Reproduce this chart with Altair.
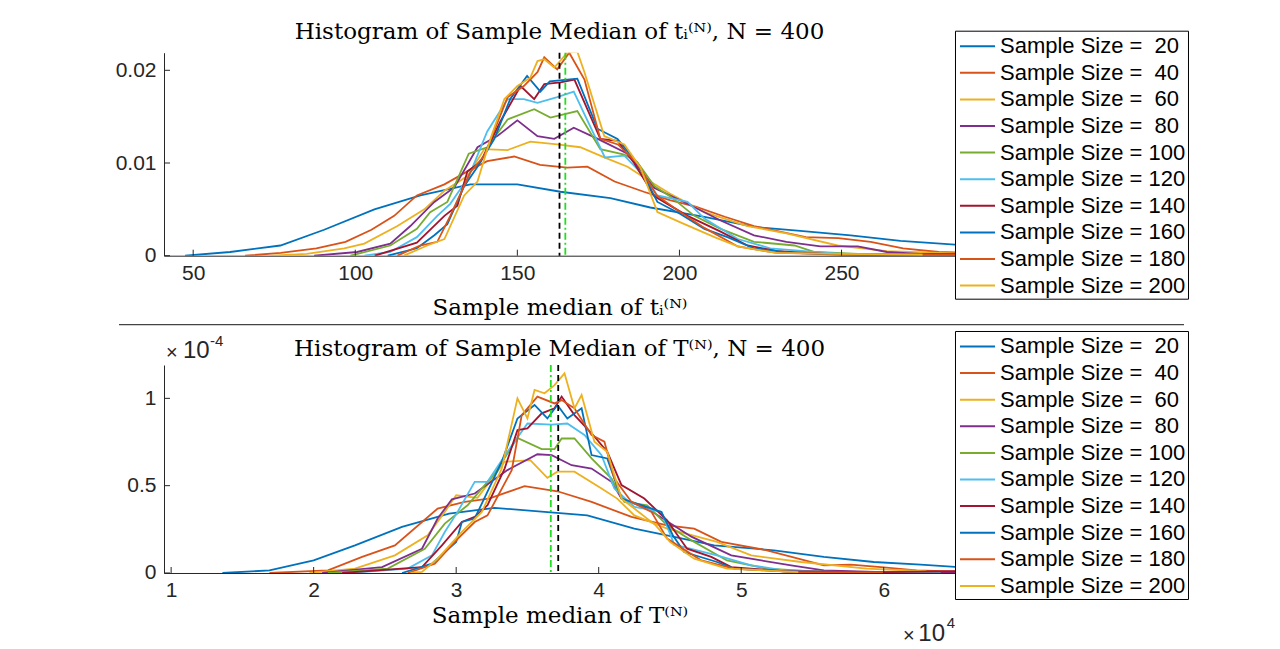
import altair as alt
import pandas as pd

SIZES = [20, 40, 60, 80, 100, 120, 140, 160, 180, 200]
COLORS = ["#0072BD", "#D95319", "#EDB120", "#7E2F8E", "#77AC30",
          "#4DBEEE", "#A2142F", "#0072BD", "#D95319", "#EDB120"]
LABELS = [("Sample Size = \u00a0%d" % s) if s < 100 else ("Sample Size = %d" % s) for s in SIZES]

# ---------------- top panel: sample median of t_i^(N) ----------------
t20_x = [47.5, 61.4, 76.9, 90.4, 105.9, 120.1, 135.5, 150.0, 163.3, 178.7, 191.0, 207.7, 223.1, 236.4, 252.8, 268.2, 285.2, 300]
t20_y = [0.0, 0.0004, 0.0011, 0.0028, 0.0050, 0.0065, 0.0077, 0.0077, 0.0069, 0.0062, 0.0052, 0.0042, 0.0031, 0.0027, 0.0022, 0.0016, 0.0012, 0.0009]
t40_x = [66, 77, 88, 97, 105, 112, 119, 127.5, 134.6, 140.7, 149, 157, 165.4, 171.6, 180, 189, 197, 205, 214, 223, 231, 239, 249, 259, 269, 280, 290]
t40_y = [0.0, 0.0003, 0.0008, 0.0015, 0.0028, 0.0043, 0.0065, 0.0077, 0.0091, 0.0102, 0.0107, 0.0098, 0.0095, 0.0096, 0.0080, 0.0069, 0.0060, 0.0053, 0.0042, 0.0032, 0.0026, 0.0020, 0.0019, 0.0015, 0.0008, 0.0004, 0.0003]
t60_x = [74, 85, 96.6, 102.8, 113, 121.3, 127.5, 134.6, 139.8, 147, 154, 162.3, 169.4, 176.8, 184, 191, 197, 207.7, 221, 233, 248.8, 264, 280, 292]
t60_y = [0.0, 0.0002, 0.0008, 0.0013, 0.0032, 0.0050, 0.0070, 0.0086, 0.0115, 0.0114, 0.0123, 0.0120, 0.0117, 0.0106, 0.0096, 0.0080, 0.0067, 0.0047, 0.0032, 0.0024, 0.0011, 0.0005, 0.0003, 0.0002]
t80_x = [87.3, 100.6, 110.8, 117, 124.4, 130.6, 137.7, 143.8, 150, 156.2, 161.4, 167.4, 174.8, 184, 192.3, 202.5, 212.7, 223, 233, 243.5, 255, 264, 274, 284, 292]
t80_y = [0.0, 0.0004, 0.0013, 0.0032, 0.0058, 0.0074, 0.0117, 0.0129, 0.0146, 0.0129, 0.0126, 0.0138, 0.0126, 0.0110, 0.0073, 0.0056, 0.0038, 0.0022, 0.0015, 0.0010, 0.0010, 0.0004, 0.0002, 0.0002, 0.0001]
t100_x = [98.5, 110.8, 119, 123.1, 128.4, 135, 140.7, 147, 155.2, 160.2, 168.5, 175.6, 183, 187, 192.3, 197.2, 204.6, 212.7, 223, 235.5, 241.7, 255, 270, 285]
t100_y = [0.0, 0.0011, 0.0029, 0.0047, 0.0058, 0.0110, 0.0117, 0.0147, 0.0158, 0.0149, 0.0156, 0.0115, 0.0109, 0.0101, 0.0075, 0.0064, 0.0043, 0.0029, 0.0015, 0.0011, 0.0004, 0.0002, 0.0001, 0.0001]
t120_x = [102.8, 110.8, 119, 125.3, 129.3, 135, 140.7, 147, 152, 156.2, 162.3, 167.4, 177, 183, 188, 193.2, 202.5, 207.7, 218, 228, 238.6, 250, 265, 280]
t120_y = [0.0, 0.0004, 0.0020, 0.0043, 0.0056, 0.0085, 0.0134, 0.0169, 0.0169, 0.0165, 0.0171, 0.0177, 0.0106, 0.0108, 0.0090, 0.0065, 0.0058, 0.0040, 0.0018, 0.0008, 0.0005, 0.0002, 0.0001, 0.0001]
t140_x = [106, 119, 127.5, 131.5, 134.6, 138.6, 144.8, 151, 155.2, 158.3, 163.3, 167.6, 175.6, 180.9, 186, 192.3, 202.5, 212.7, 221, 230, 245, 260, 272, 278, 290]
t140_y = [0.0, 0.0014, 0.0043, 0.0054, 0.0091, 0.0101, 0.0145, 0.0183, 0.0169, 0.0185, 0.0187, 0.0190, 0.0126, 0.0124, 0.0100, 0.0064, 0.0043, 0.0026, 0.0011, 0.0005, 0.0002, 0.0001, 0.0001, 0.0002, 0.0001]
t160_x = [110, 119, 124.4, 128.4, 133.6, 137.7, 142.9, 147.8, 153, 157.1, 160, 165.4, 168.5, 174.7, 180.9, 187, 193.2, 200.3, 207.7, 214.8, 223, 235, 250, 270, 290]
t160_y = [0.0, 0.0008, 0.0022, 0.0034, 0.0075, 0.0096, 0.0126, 0.0169, 0.0194, 0.0177, 0.0188, 0.0190, 0.0191, 0.0137, 0.0126, 0.0100, 0.0058, 0.0045, 0.0029, 0.0020, 0.0008, 0.0003, 0.0001, 0.0001, 0.0001]
t180_x = [113, 120, 125.3, 129.3, 135.5, 139.8, 147, 152, 156.2, 158.3, 162.3, 166, 170.7, 175.6, 181, 187, 193, 200.3, 207.7, 218, 230, 245, 265, 290]
t180_y = [0.0, 0.0011, 0.0015, 0.0043, 0.0090, 0.0108, 0.0171, 0.0183, 0.0198, 0.0214, 0.0201, 0.0219, 0.0190, 0.0126, 0.0120, 0.0100, 0.0065, 0.0047, 0.0030, 0.0010, 0.0003, 0.0002, 0.0001, 0.0001]
t200_x = [115, 122.2, 127.5, 133.6, 137.7, 141.7, 146, 150, 154, 156.2, 158.3, 161.4, 165.4, 168.5, 170.7, 176.8, 183, 188, 193.2, 200.3, 210.8, 218, 230, 250, 275]
t200_y = [0.0, 0.0011, 0.0018, 0.0065, 0.0080, 0.0126, 0.0169, 0.0183, 0.0192, 0.0210, 0.0212, 0.0203, 0.0219, 0.0220, 0.0198, 0.0129, 0.0120, 0.0095, 0.0047, 0.0036, 0.0020, 0.0010, 0.0003, 0.0002, 0.0001]

T_TOP_X = [t20_x, t40_x, t60_x, t80_x, t100_x, t120_x, t140_x, t160_x, t180_x, t200_x]
T_TOP_Y = [t20_y, t40_y, t60_y, t80_y, t100_y, t120_y, t140_y, t160_y, t180_y, t200_y]
top_mean = [163.0]      # black dashed
top_median = [164.8]    # green dash-dot
top_xticks = [50, 100, 150, 200, 250]
top_yticks = [0, 0.01, 0.02]

# ---------------- bottom panel: sample median of T^(N) (x in 1e4, y in 1e-4) ----------------
b20_x = [1.36, 1.69, 2.00, 2.29, 2.62, 2.95, 3.27, 3.62, 3.92, 4.25, 4.53, 4.81, 5.23, 5.58, 5.93, 6.26, 6.60]
b20_y = [0.0, 0.015, 0.072, 0.158, 0.264, 0.340, 0.373, 0.350, 0.330, 0.254, 0.207, 0.158, 0.130, 0.092, 0.063, 0.048, 0.030]
b40_x = [1.69, 2.10, 2.34, 2.57, 2.87, 3.06, 3.23, 3.48, 3.71, 3.95, 4.23, 4.48, 4.67, 4.86, 5.18, 5.58, 5.77, 5.98, 6.23, 6.48, 6.70]
b40_y = [0.0, 0.015, 0.092, 0.158, 0.369, 0.407, 0.426, 0.497, 0.468, 0.407, 0.321, 0.273, 0.254, 0.178, 0.130, 0.044, 0.048, 0.034, 0.015, 0.009, 0.005]
b60_x = [1.97, 2.29, 2.57, 2.80, 2.92, 3.00, 3.15, 3.34, 3.52, 3.64, 3.71, 3.83, 4.02, 4.13, 4.25, 4.48, 4.83, 5.07, 5.42, 5.88, 6.30]
b60_y = [0.0, 0.025, 0.101, 0.216, 0.350, 0.445, 0.430, 0.637, 0.646, 0.545, 0.580, 0.580, 0.484, 0.426, 0.330, 0.254, 0.178, 0.101, 0.063, 0.025, 0.010]
b80_x = [2.06, 2.48, 2.76, 2.87, 2.97, 3.13, 3.36, 3.57, 3.67, 3.81, 3.95, 4.09, 4.16, 4.34, 4.65, 4.93, 5.14, 5.35, 5.58, 6.00, 6.50]
b80_y = [0.0, 0.034, 0.139, 0.312, 0.422, 0.455, 0.589, 0.680, 0.675, 0.617, 0.598, 0.522, 0.426, 0.369, 0.208, 0.101, 0.072, 0.044, 0.015, 0.005, 0.003]
b100_x = [2.10, 2.52, 2.78, 2.92, 3.08, 3.27, 3.43, 3.60, 3.69, 3.74, 3.83, 3.95, 4.09, 4.18, 4.34, 4.48, 4.67, 4.90, 5.18, 5.60, 6.20]
b100_y = [0.0, 0.025, 0.139, 0.283, 0.388, 0.570, 0.774, 0.709, 0.709, 0.770, 0.770, 0.656, 0.541, 0.407, 0.388, 0.273, 0.178, 0.072, 0.025, 0.005, 0.003]
b120_x = [2.24, 2.66, 2.83, 2.92, 3.01, 3.13, 3.22, 3.36, 3.50, 3.67, 3.78, 3.90, 4.02, 4.11, 4.25, 4.44, 4.53, 4.83, 5.07, 5.30, 5.80, 6.40]
b120_y = [0.0, 0.025, 0.101, 0.235, 0.350, 0.522, 0.522, 0.694, 0.856, 0.850, 0.856, 0.790, 0.675, 0.484, 0.379, 0.350, 0.162, 0.101, 0.044, 0.015, 0.004, 0.003]
b140_x = [2.20, 2.76, 2.90, 3.04, 3.13, 3.22, 3.34, 3.43, 3.50, 3.60, 3.69, 3.74, 3.83, 3.95, 4.06, 4.16, 4.32, 4.48, 4.62, 4.79, 4.93, 5.30, 6.00, 6.50]
b140_y = [0.0, 0.034, 0.158, 0.292, 0.321, 0.388, 0.598, 0.818, 0.828, 0.914, 0.943, 1.010, 0.904, 0.800, 0.694, 0.503, 0.426, 0.302, 0.139, 0.092, 0.034, 0.010, 0.005, 0.010]
b160_x = [2.62, 2.83, 3.00, 3.04, 3.13, 3.32, 3.43, 3.55, 3.64, 3.71, 3.78, 3.88, 3.95, 4.06, 4.16, 4.30, 4.44, 4.52, 4.60, 4.83, 4.95, 5.40, 6.00]
b160_y = [0.0, 0.053, 0.178, 0.292, 0.312, 0.637, 0.885, 0.962, 0.885, 0.962, 0.885, 0.943, 0.675, 0.656, 0.426, 0.388, 0.350, 0.216, 0.120, 0.063, 0.025, 0.005, 0.003]
b180_x = [2.66, 2.85, 3.00, 3.13, 3.22, 3.39, 3.46, 3.57, 3.69, 3.74, 3.83, 3.95, 4.04, 4.11, 4.23, 4.37, 4.48, 4.72, 4.95, 5.40, 6.00]
b180_y = [0.0, 0.053, 0.187, 0.292, 0.330, 0.589, 0.904, 1.010, 0.971, 0.990, 0.943, 0.790, 0.752, 0.541, 0.407, 0.350, 0.197, 0.072, 0.025, 0.005, 0.003]
b200_x = [2.68, 2.76, 2.87, 3.04, 3.18, 3.32, 3.43, 3.50, 3.55, 3.62, 3.69, 3.76, 3.83, 3.88, 3.97, 4.06, 4.16, 4.25, 4.40, 4.50, 4.67, 4.90, 5.40]
b200_y = [0.0, 0.006, 0.082, 0.235, 0.350, 0.598, 1.000, 0.885, 1.048, 1.029, 1.076, 1.143, 0.943, 1.019, 0.752, 0.694, 0.426, 0.369, 0.273, 0.178, 0.082, 0.025, 0.005]

B_X = [b20_x, b40_x, b60_x, b80_x, b100_x, b120_x, b140_x, b160_x, b180_x, b200_x]
B_Y = [b20_y, b40_y, b60_y, b80_y, b100_y, b120_y, b140_y, b160_y, b180_y, b200_y]
bot_mean = [3.716]
bot_median = [3.664]
bot_xticks = [1, 2, 3, 4, 5, 6]
bot_yticks = [0, 0.5, 1]

W = 791
H_TOP = 203
H_BOT = 208
SANS = "Liberation Sans"
SERIF = "DejaVu Serif"
AX = "#262626"


def frame(xs_list, ys_list):
    rows = []
    for k, (xs, ys) in enumerate(zip(xs_list, ys_list)):
        for a, b in zip(xs, ys):
            rows.append({"x": a, "y": b, "series": LABELS[k], "k": k})
    return pd.DataFrame(rows)


def txt(s, size, x, y, align="left", color=AX):
    return alt.Chart(pd.DataFrame({"t": [s]})).mark_text(
        font=SANS, fontSize=size, color=color, align=align, baseline="alphabetic").encode(
        text="t:N", x=alt.value(x), y=alt.value(y))


def panel(xs_list, ys_list, xdom, ydom, xticks, yticks, ylabexpr, title, xtitle,
          mean_v, median_v, H, legend_y, title_offset, xtitle_pad, extra):
    df = frame(xs_list, ys_list)
    xenc = alt.X("x:Q", scale=alt.Scale(domain=xdom, nice=False, zero=False),
                 axis=alt.Axis(values=xticks, ticks=False, grid=False, domainColor=AX,
                               domainWidth=1, labelFont=SANS, labelFontSize=21,
                               labelColor=AX, labelPadding=7, labelFlush=False,
                               title=xtitle, titleFont=SERIF, titleFontSize=23,
                               titleFontWeight="normal", titleColor="black",
                               titlePadding=xtitle_pad))
    yenc = alt.Y("y:Q", scale=alt.Scale(domain=ydom, nice=False, zero=False),
                 axis=alt.Axis(values=yticks, ticks=False, grid=False, domainColor=AX,
                               domainWidth=1, labelFont=SANS, labelFontSize=21,
                               labelColor=AX, labelPadding=8, labelExpr=ylabexpr,
                               labelFlush=False, title=None))
    lines = alt.Chart(df).mark_line(strokeWidth=1.8, clip=True).encode(
        x=xenc, y=yenc,
        color=alt.Color("series:N",
                        scale=alt.Scale(domain=LABELS, range=COLORS),
                        legend=alt.Legend(orient="none", legendX=W, legendY=legend_y,
                                          title=None, symbolType="M-1.4,0H1.4",
                                          symbolSize=625, symbolStrokeWidth=2,
                                          symbolOffset=7,
                                          labelFont=SANS, labelFontSize=22,
                                          labelColor="black", labelLimit=400,
                                          labelOffset=9, rowPadding=1.6,
                                          strokeColor="black", fillColor="white",
                                          padding=2, cornerRadius=0)),
        detail="k:O",
    )
    mean_rule = alt.Chart(pd.DataFrame({"x": mean_v})).mark_rule(
        color="black", strokeWidth=1.8, strokeDash=[6, 4]).encode(x=xenc)
    med_rule = alt.Chart(pd.DataFrame({"x": median_v})).mark_rule(
        color="#22DD22", strokeWidth=1.8, strokeDash=[7, 3, 2, 3]).encode(x=xenc)
    xt = alt.Chart(pd.DataFrame({"x": xticks})).mark_rule(color=AX, strokeWidth=1).encode(
        x=xenc, y=alt.value(H), y2=alt.value(H - 6))
    yt = alt.Chart(pd.DataFrame({"y": yticks})).mark_rule(color=AX, strokeWidth=1).encode(
        y=yenc, x=alt.value(0), x2=alt.value(6))
    layers = [lines, mean_rule, med_rule, xt, yt] + extra
    return alt.layer(*layers).properties(
        width=W, height=H,
        title=alt.TitleParams(text=title, font=SERIF, fontSize=23, fontWeight="normal",
                              color="black", anchor="middle", frame="group",
                              offset=title_offset))


sep = alt.Chart(pd.DataFrame({"v": [0]})).mark_rule(color="#444444", strokeWidth=1.3).encode(
    x=alt.value(-45), x2=alt.value(1020), y=alt.value(272))

top = panel(T_TOP_X, T_TOP_Y, [41, 285], [0, 0.0219], top_xticks, top_yticks,
            "datum.value == 0 ? '0' : format(datum.value, '.2f')",
            "Histogram of Sample Median of t\u1d62\u207d\u1d3a\u207e, N = 400",
            "Sample median of t\u1d62\u207d\u1d3a\u207e",
            top_mean, top_median, H_TOP, -22, -14, 13, [sep])

exp_layers = [
    txt("\u00d7", 20, 2, -6),
    txt("10", 24, 19, -7),
    txt("-4", 15, 46, -19),
    txt("\u00d7", 20, 739, 277),
    txt("10", 24, 781, 276, align="right"),
    txt("4", 15, 791, 263, align="right"),
]

bot = panel(B_X, B_Y, [0.95, 6.5], [0, 1.191], bot_xticks, bot_yticks,
            "datum.value == 0 ? '0' : format(datum.value, '~g')",
            "Histogram of Sample Median of T\u207d\u1d3a\u207e, N = 400",
            "Sample median of T\u207d\u1d3a\u207e",
            bot_mean, bot_median, H_BOT, -34, -31, 4, exp_layers)

chart = alt.vconcat(top, bot, spacing=4.3).resolve_scale(
    color="independent", x="independent", y="independent").resolve_legend(
    color="independent").properties(
    padding={"left": 107, "top": 12.7, "right": 5, "bottom": 5},
    background="white"
).configure_view(stroke="transparent", strokeWidth=0)

chart.save("out.html", embed_options={"renderer": "svg", "actions": False})
